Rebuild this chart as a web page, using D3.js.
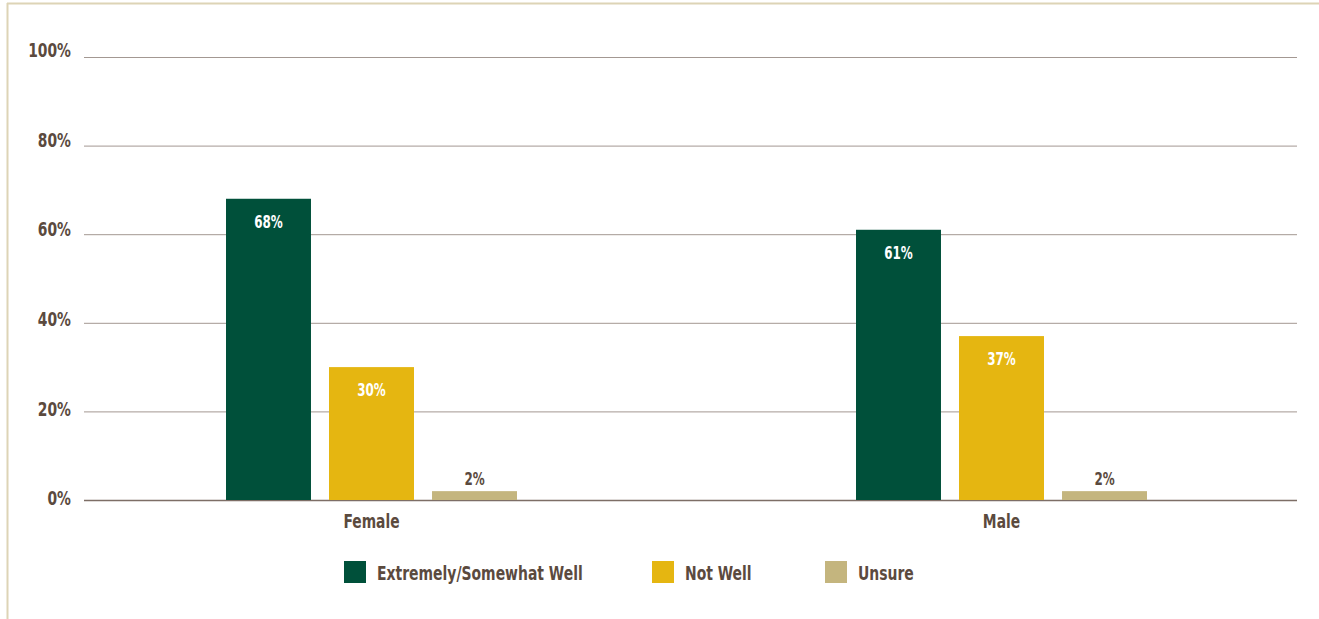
<!DOCTYPE html>
<html>
<head>
<meta charset="utf-8">
<script src="https://cdn.jsdelivr.net/npm/d3@7"></script>
<style>
  html, body { margin: 0; padding: 0; background: #fff; }
  svg { display: block; }
  text { font-family: "Liberation Sans Narrow", "DejaVu Sans Condensed", "Roboto Condensed", sans-serif; font-weight: bold; }
</style>
</head>
<body>
<svg id="chart" width="1319" height="619"></svg>
<script>
// Survey responses by gender
const categories = ["Female", "Male"];
const seriesNames = ["Extremely/Somewhat Well", "Not Well", "Unsure"];
const extremelySomewhatWell = [68, 61];
const notWell = [30, 37];
const unsure = [2, 2];
const tickValues = [0, 20, 40, 60, 80, 100];
const tickLabels = ["0%", "20%", "40%", "60%", "80%", "100%"];

const seriesValues = [extremelySomewhatWell, notWell, unsure];
const colors = ["#00503a", "#e5b611", "#c4b57e"];
const textColor = "#5b4a3e";

const svg = d3.select("#chart");

// squeeze a text selection horizontally to mimic a condensed face
function condense(sel, ratio) {
  sel.each(function () {
    const w = this.getComputedTextLength();
    d3.select(this).attr("textLength", w * ratio).attr("lengthAdjust", "spacingAndGlyphs");
  });
}

// outer frame (top and left rules)
svg.append("line").attr("x1", 7).attr("x2", 1319).attr("y1", 3.5).attr("y2", 3.5)
  .attr("stroke", "#ddd4b6").attr("stroke-width", 2);
svg.append("line").attr("x1", 7.5).attr("x2", 7.5).attr("y1", 3).attr("y2", 619)
  .attr("stroke", "#ddd4b6").attr("stroke-width", 2);

const plotLeft = 84, plotRight = 1297;
const y = d3.scaleLinear().domain([0, 100]).range([500, 57]);
// tick labels sit on a slightly wider spacing than the gridlines
const yLabel = d3.scaleLinear().domain([0, 100]).range([498, 50]);

const x0 = d3.scaleBand().domain(categories).range([56.5, 1316.5]);
const x1 = d3.scaleBand().domain(seriesNames).range([-145.5, 145.5]).paddingInner(0.175).paddingOuter(0);

// gridlines
const yAxis = d3.axisLeft(y).tickValues(tickValues)
  .tickSize(-(plotRight - plotLeft))
  .tickFormat("");
const gAxis = svg.append("g").attr("transform", `translate(${plotLeft},0)`).call(yAxis);
gAxis.select(".domain").remove();
gAxis.selectAll(".tick line")
  .attr("stroke", d => d === 0 ? "#7d6e66" : "#a39892")
  .attr("stroke-width", d => d === 0 ? 1.6 : 1);

// tick labels
svg.append("g").selectAll("text").data(tickValues).enter().append("text")
  .attr("x", 71).attr("y", d => yLabel(d)).attr("dy", "0.36em")
  .attr("text-anchor", "end")
  .attr("fill", textColor).attr("font-size", 20)
  .text((d, i) => tickLabels[i])
  .call(condense, 0.77);

// bars
const groups = svg.selectAll("g.group").data(categories).enter().append("g")
  .attr("class", "group")
  .attr("transform", d => `translate(${x0(d) + x0.bandwidth() / 2},0)`);

groups.each(function (cat, ci) {
  const g = d3.select(this);
  seriesNames.forEach((s, si) => {
    const v = seriesValues[si][ci];
    g.append("rect")
      .attr("x", x1(s)).attr("width", x1.bandwidth())
      .attr("y", y(v)).attr("height", y(0) - y(v))
      .attr("fill", colors[si]);
    const inside = v > 10;
    g.append("text")
      .attr("x", x1(s) + x1.bandwidth() / 2)
      .attr("y", inside ? y(v) + 29 : y(v) - 6)
      .attr("text-anchor", "middle")
      .attr("font-size", 17)
      .attr("fill", inside ? "#ffffff" : textColor)
      .text(v + "%")
      .call(condense, 0.78);
  });
});

// category labels
svg.selectAll("text.cat").data(categories).enter().append("text")
  .attr("class", "cat")
  .attr("x", d => x0(d) + x0.bandwidth() / 2)
  .attr("y", 528)
  .attr("text-anchor", "middle")
  .attr("font-size", 20)
  .attr("fill", textColor)
  .text(d => d)
  .call(condense, 0.77);

// legend
const legendX = [344, 652, 825];
const legend = svg.selectAll("g.legend").data(seriesNames).enter().append("g")
  .attr("class", "legend")
  .attr("transform", (d, i) => `translate(${legendX[i]},561)`);
legend.append("rect").attr("width", 22).attr("height", 22).attr("fill", (d, i) => colors[i]);
legend.append("text").attr("x", 33).attr("y", 18.5).attr("font-size", 20)
  .attr("fill", textColor).text(d => d)
  .call(condense, 0.775);
</script>
</body>
</html>
